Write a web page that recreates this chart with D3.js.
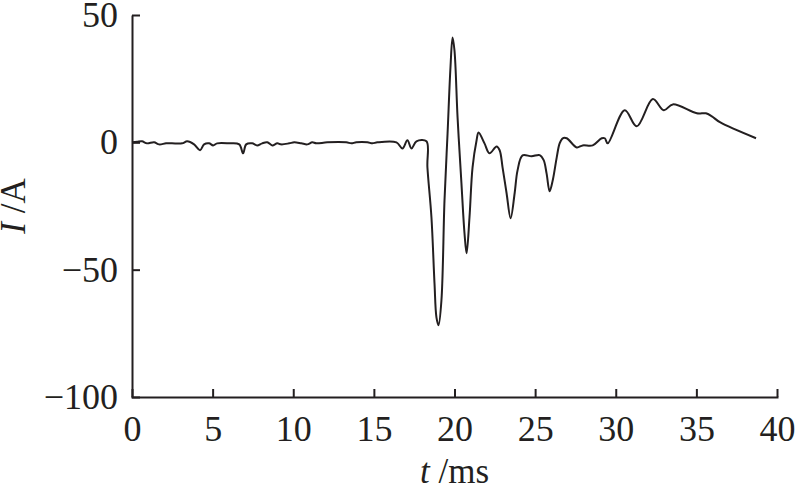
<!DOCTYPE html>
<html>
<head>
<meta charset="utf-8">
<script src="https://cdn.jsdelivr.net/npm/d3@7"></script>
<style>
  body { margin: 0; background: #fff; }
  svg { display: block; }
  .axis path, .axis line { stroke: #231f20; stroke-width: 2; }
  .axis text { font-family: "Liberation Serif", "Times New Roman", serif; font-size: 36px; fill: #231f20; }
</style>
</head>
<body>
<div id="chart"></div>
<script>
// time (ms) and current (A)
var tVals = [0,0.31,0.62,0.93,1.37,1.68,2.11,2.48,3.11,3.42,3.85,4.22,4.47,4.78,5.03,5.28,6.02,6.65,6.89,7.08,
  7.45,7.76,8.07,8.39,8.70,9.01,9.25,9.75,10.06,10.50,10.87,11.18,11.43,12.11,13.29,13.60,13.91,14.60,14.91,15.22,
  16.40,16.77,17.08,17.33,17.64,18.26,18.32,18.57,18.76,18.88,19.01,19.19,19.38,19.57,19.75,19.88,20.0,20.19,20.43,20.62,
  20.75,20.93,21.12,21.37,21.49,21.86,22.17,22.61,22.80,22.98,23.23,23.48,23.73,23.91,24.22,24.78,25.28,25.53,25.71,25.90,
  26.09,26.34,26.52,26.71,26.96,27.58,27.95,28.57,29.13,29.32,29.50,30.56,31.30,32.30,32.98,33.54,35.03,35.59,35.96,36.46,38.70];
var iVals = [0,0.2,0.4,-0.4,0,-0.8,-0.4,-0.4,-0.4,0.4,-0.8,-3.1,-0.8,-0.4,-1.2,-0.4,-0.4,-0.8,-4.3,-0.8,
  -0.4,-1.2,-0.4,0,-1.2,-0.4,-0.8,-0.4,0,-0.4,-0.8,0,-0.4,0,0,-0.4,0,0,-0.4,0,
  0,-2.4,0.8,-2.4,0.4,0.4,-9.8,-29.4,-55.4,-68.7,-71.8,-62,-22.8,3.5,29.4,41.2,36,9.8,-16,-35.7,
  -43.6,-29.4,-9.8,0.8,3.9,-0.4,-4.3,-1.6,-3.1,-9.8,-20,-29.8,-20,-11,-5.1,-5.5,-5,-7,-12.2,-19.2,
  -15,-5.9,-0.4,1.6,1.6,-2,-1.2,-1.2,1.6,1.6,-0.4,12.6,6.3,17,12.6,14.9,11.4,11.4,10.2,7.9,1.6];

var xTicks = [0,5,10,15,20,25,30,35,40];
var yTicks = [-100,-50,0,50];

var margin = {top: 15, right: 19, bottom: 95, left: 132},
    width = 796 - margin.left - margin.right,
    height = 492 - margin.top - margin.bottom;

var x = d3.scaleLinear().domain([0, 40]).range([0, width]);
var y = d3.scaleLinear().domain([-100, 50]).range([height, 0]);

var svg = d3.select("#chart").append("svg")
    .attr("width", 796)
    .attr("height", 492)
  .append("g")
    .attr("transform", "translate(" + margin.left + "," + margin.top + ")");

var data = tVals.map(function(t, i) { return {t: t, v: iVals[i]}; });

// X axis, ticks pointing inward
svg.append("g")
    .attr("class", "axis")
    .attr("transform", "translate(0," + height + ")")
    .call(d3.axisBottom(x).tickValues(xTicks).tickSizeInner(-8).tickSizeOuter(0).tickPadding(18))
    .call(function(g) { g.select(".domain").attr("stroke-linecap", "square"); });

// Y axis
svg.append("g")
    .attr("class", "axis")
    .call(d3.axisLeft(y).tickValues(yTicks).tickSizeInner(-8).tickSizeOuter(0).tickPadding(14)
      .tickFormat(function(d) { return d < 0 ? "\u2212" + Math.abs(d) : d; }));

// the current trace
var line = d3.line()
    .x(function(d) { return x(d.t); })
    .y(function(d) { return y(d.v); })
    .curve(d3.curveCatmullRom.alpha(0.5));

svg.append("path")
    .datum(data)
    .attr("fill", "none")
    .attr("stroke", "#231f20")
    .attr("stroke-width", 2)
    .attr("stroke-linejoin", "round")
    .attr("d", line);

// axis titles
var xt = svg.append("text")
    .attr("x", width / 2)
    .attr("y", height + 86)
    .attr("text-anchor", "middle")
    .style("font-family", "Liberation Serif, serif")
    .style("font-size", "35px")
    .style("fill", "#231f20");
xt.append("tspan").style("font-style", "italic").text("t");
xt.append("tspan").text(" /ms");

var yt = svg.append("text")
    .attr("transform", "rotate(-90)")
    .attr("x", -height / 2)
    .attr("y", 25 - margin.left)
    .attr("text-anchor", "middle")
    .style("font-family", "Liberation Serif, serif")
    .style("font-size", "35px")
    .style("fill", "#231f20");
yt.append("tspan").style("font-style", "italic").text("I");
yt.append("tspan").text(" /A");
</script>
</body>
</html>
